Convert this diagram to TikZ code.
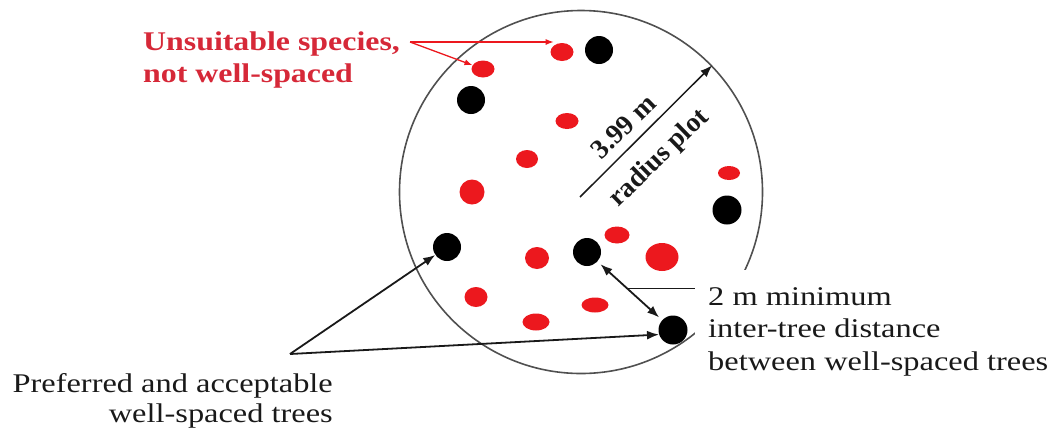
\documentclass[tikz,border=0pt]{standalone}
\usepackage{fontspec}
\usepackage{graphicx}
\setmainfont{Liberation Serif}
\usetikzlibrary{arrows.meta,shapes.geometric}
\definecolor{txtred}{RGB}{214,40,56}
\definecolor{treered}{RGB}{236,24,30}
\definecolor{ringgray}{RGB}{80,80,80}
\definecolor{ink}{RGB}{25,25,25}
\begin{document}
\begin{tikzpicture}[x=1pt,y=-1pt,
  redtree/.style={ellipse, fill=treered, inner sep=0pt},
  blacktree/.style={circle, fill=black, minimum size=28pt, inner sep=0pt},
  lbl/.style={inner sep=0pt, text=ink, font=\fontsize{27}{32}\selectfont},
  redlbl/.style={inner sep=0pt, text=txtred, font=\fontsize{27}{32}\selectfont\bfseries},
  rotlbl/.style={inner sep=0pt, text=ink, font=\fontsize{27.5}{32}\selectfont\bfseries, rotate=44.3},
  blackarrow/.style={draw=ink, line width=1.8pt, -{Latex[length=12pt,width=9pt]}},
  redarrow/.style={draw=treered, line width=1.3pt, -{Latex[length=8pt,width=6pt]}}]
\useasboundingbox (0,0) rectangle (1055,432);
% plot circle
\node[circle, draw=ringgray, line width=1.6pt, minimum size=363pt, inner sep=0pt] (plot) at (581,192) {};
% white patch where the label interrupts the circle
\fill[white] (695,270) rectangle (1055,385);
% red trees
\node[redtree, minimum width=23pt, minimum height=18pt] (r1) at (562,52) {};
\node[redtree, minimum width=23pt, minimum height=17pt] (r2) at (483,69) {};
\node[redtree, minimum width=23pt, minimum height=16pt] (r3) at (567,121) {};
\node[redtree, minimum width=22pt, minimum height=18pt] (r4) at (527,159) {};
\node[redtree, minimum width=25pt, minimum height=25pt] (r5) at (472,192) {};
\node[redtree, minimum width=22pt, minimum height=14pt] (r6) at (729,173) {};
\node[redtree, minimum width=25pt, minimum height=17pt] (r7) at (617,235) {};
\node[redtree, minimum width=24pt, minimum height=22pt] (r8) at (537,258) {};
\node[redtree, minimum width=33pt, minimum height=28pt] (r9) at (662,257) {};
\node[redtree, minimum width=23pt, minimum height=20pt] (r10) at (476,297) {};
\node[redtree, minimum width=27pt, minimum height=17pt] (r11) at (536,322) {};
\node[redtree, minimum width=27pt, minimum height=15pt] (r12) at (595,305) {};
% black (well-spaced) trees
\node[blacktree] (b1) at (599,50) {};
\node[blacktree] (b2) at (471,100) {};
\node[blacktree, minimum size=29pt] (b3) at (727,210) {};
\node[blacktree] (b4) at (447,247) {};
\node[blacktree] (b5) at (587,252) {};
\node[blacktree, minimum size=29pt] (b6) at (673,330) {};
% radius
\coordinate (ctr) at (580,197);
\draw[blackarrow, line width=1.5pt] (ctr) -- (plot.44.3);
\node[rotlbl] (rad1) at (623.5,126.5) {3.99 m};
\node[rotlbl] (rad2) at (659.5,158.5) {radius plot};
% red label
\node[redlbl, anchor=base west] (u1) at (143,50) {\scalebox{1.18}[1]{Unsuitable species,}};
\node[redlbl, anchor=base west] (u2) at (143,82) {\scalebox{1.18}[1]{not well-spaced}};
\coordinate (rs) at (410,42);
\draw[redarrow] (rs) -- (r1.north west |- rs);
\draw[redarrow] (rs) -- (r2.160);
% preferred label
\node[lbl, anchor=base east] (p1) at (333,392) {\scalebox{1.2}[1]{Preferred and acceptable}};
\node[lbl, anchor=base east] (p2) at (333,422) {\scalebox{1.2}[1]{well-spaced trees}};
\coordinate (pa) at (290,354);
\draw[blackarrow] (pa) -- (b4);
\draw[blackarrow] (pa) -- (b6.198);
% distance label
\node[lbl, anchor=base west] (d1) at (708,305) {\scalebox{1.2}[1]{2 m minimum}};
\node[lbl, anchor=base west] (d2) at (708,337) {\scalebox{1.2}[1]{inter-tree distance}};
\node[lbl, anchor=base west] (d3) at (708,370) {\scalebox{1.2}[1]{between well-spaced trees}};
\draw[draw=ink, line width=1.8pt, {Latex[length=12pt,width=9pt]}-{Latex[length=12pt,width=9pt]}, shorten <=4pt, shorten >=4pt] (b5) -- (b6) coordinate[pos=0.46] (mid);
\draw[draw=ink, line width=1.8pt] (mid) -- ([xshift=-13pt]mid -| d1.west);
\end{tikzpicture}
\end{document}
